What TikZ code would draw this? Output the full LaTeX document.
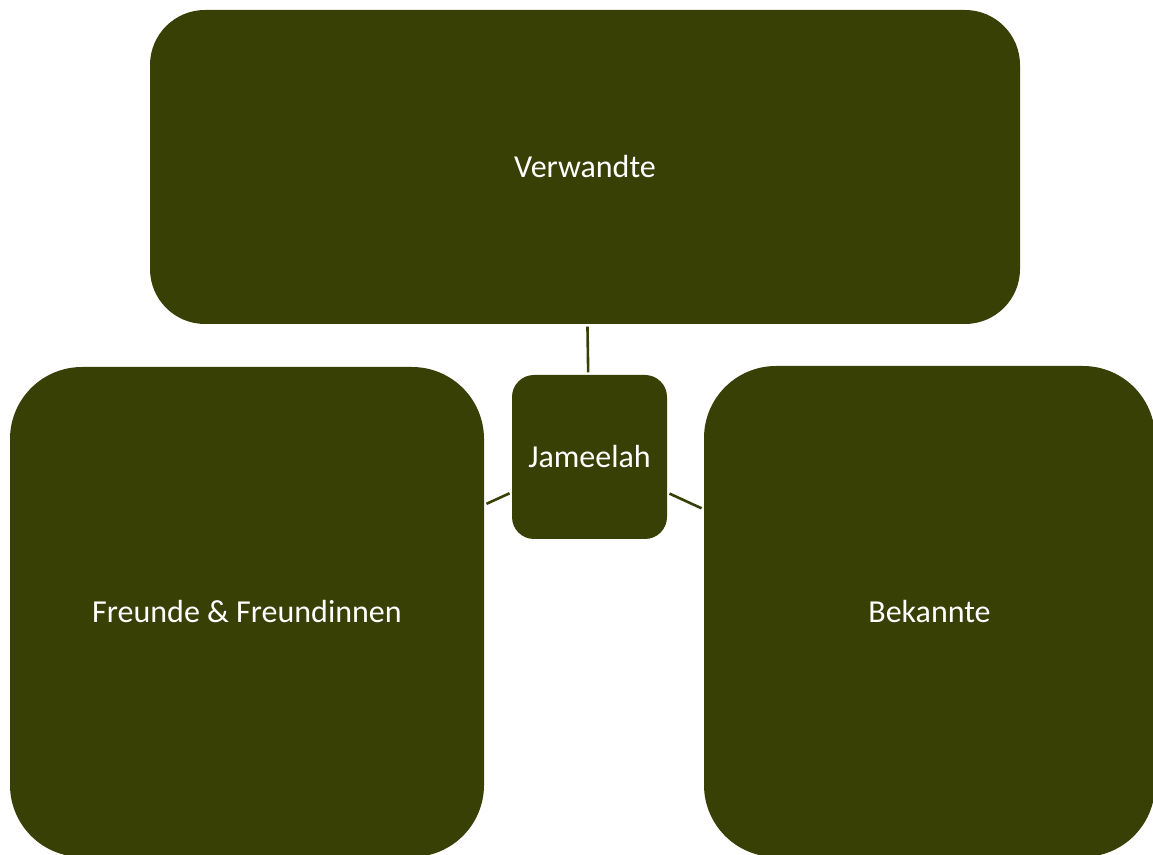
\documentclass[tikz,border=0pt]{standalone}
\usepackage{fontspec}
\setmainfont{Carlito}
\definecolor{olive}{RGB}{56,64,6}
\begin{document}
\begin{tikzpicture}[x=1pt,y=1pt,
  box/.style={fill=olive, draw=none, text=white, inner sep=0pt, font=\fontsize{32}{38}\selectfont},
  link/.style={draw=olive, line width=2.6pt, shorten >=2.5pt, shorten <=2.5pt}]
\useasboundingbox (0,0) rectangle (1153,854);
\clip (0,0) rectangle (1153,854);
\node[box, rounded corners=55pt, minimum width=870pt, minimum height=314pt] (verw) at (585,687) {Verwandte};
\node[box, rounded corners=22pt, minimum width=155pt, minimum height=164pt] (jam) at (589.5,397) {Jameelah};
\node[box, rounded corners=72pt, minimum width=474pt, minimum height=490pt] (freu) at (247,242) {Freunde \& Freundinnen};
\node[box, rounded corners=72pt, minimum width=451pt, minimum height=491pt] (bek) at (929.5,242.5) {Bekannte};
\draw[link] (jam) -- (verw);
\draw[link] (jam) -- (freu);
\draw[link] (jam) -- (bek);
\end{tikzpicture}
\end{document}
